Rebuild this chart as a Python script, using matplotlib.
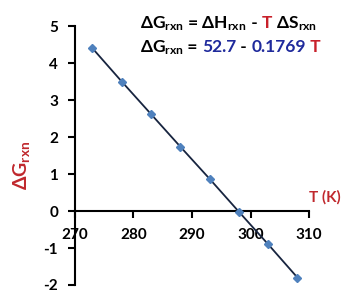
import matplotlib.pyplot as plt

plt.rcParams['font.family'] = ['Lato', 'DejaVu Sans']
plt.rcParams['font.weight'] = 'bold'
plt.rcParams['mathtext.fontset'] = 'custom'
plt.rcParams['mathtext.rm'] = 'Lato:bold'
plt.rcParams['mathtext.default'] = 'rm'
plt.rcParams['axes.unicode_minus'] = False

# data
temps = [273, 278, 283, 288, 293, 298, 303, 308]
dG = [4.4, 3.5, 2.62, 1.74, 0.87, -0.02, -0.9, -1.8]
xticks = [270, 280, 290, 300, 310]
yticks = [-2, -1, 0, 1, 2, 3, 4, 5]

red = '#c8202a'
blue = '#1f2a9c'
label_red = '#c0282d'

fig = plt.figure(figsize=(3.42, 3.0), dpi=100)
ax = fig.add_axes([0.219, 0.05, 0.685, 0.863])

ax.plot(temps, dG, color='#17243f', lw=1.3, zorder=2)
ax.plot(temps, dG, ls='', marker='D', ms=4.5, color='#4f81bd', zorder=3)

ax.set_xlim(270, 310)
ax.set_ylim(-2, 5)
ax.set_xticks(xticks)
ax.set_yticks(yticks)
ax.spines['right'].set_visible(False)
ax.spines['top'].set_visible(False)
ax.spines['bottom'].set_position(('data', 0))
for s in ['left', 'bottom']:
    ax.spines[s].set_linewidth(1.5)
    ax.spines[s].set_color('black')
ax.tick_params(direction='out', length=5, width=1.5, labelsize=11)
ax.tick_params(axis='x', pad=7)
ax.tick_params(axis='y', pad=7)
for lab in ax.get_xticklabels() + ax.get_yticklabels():
    lab.set_fontweight('bold')

ax.text(-0.23, 0.46, r'ΔG$_{\mathrm{rxn}}$', transform=ax.transAxes, rotation=90,
        color=label_red, fontsize=14, ha='center', va='center')
ax.text(1.065, 0.31, 'T (K)', transform=ax.transAxes, color=label_red,
        fontsize=11, ha='center', va='bottom', clip_on=False)


def chain(pieces, x, y, size=12.5):
    # pieces put one after the other on a shared baseline
    prev = ax.text(x, y, pieces[0][0], color=pieces[0][1], fontsize=size,
                   va='baseline', transform=fig.transFigure)
    for s, c in pieces[1:]:
        prev = ax.annotate(s, xy=(1, y), xycoords=(prev, 'figure fraction'),
                           color=c, fontsize=size, va='baseline',
                           annotation_clip=False)


chain([(r'ΔG$_{\mathrm{rxn}}$', 'black'), (r' = ΔH$_{\mathrm{rxn}}$', 'black'),
       (' - ', 'black'), ('T', red),
       (r' ΔS$_{\mathrm{rxn}}$', 'black')], 0.408, 0.905)
chain([(r'ΔG$_{\mathrm{rxn}}$', 'black'), (' = ', 'black'),
       ('52.7', blue), (' - ', 'black'), ('0.1769', blue), (' T', red)],
      0.408, 0.825)

fig.savefig('out.png', dpi=100)
